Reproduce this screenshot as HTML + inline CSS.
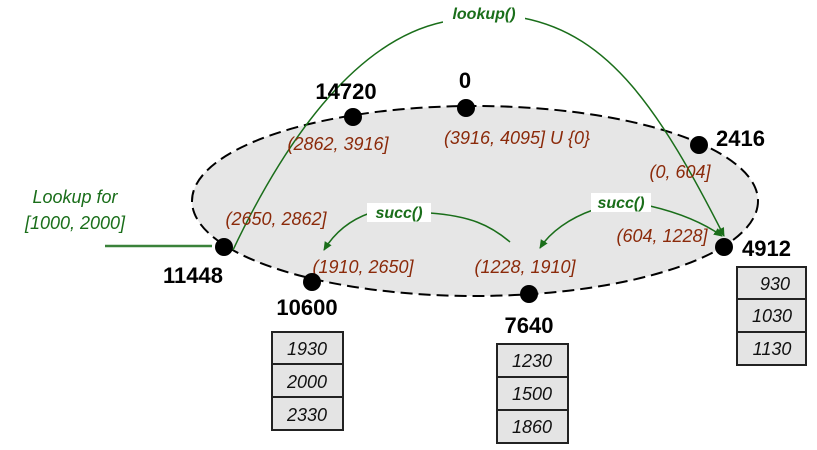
<!DOCTYPE html>
<html><head><meta charset="utf-8"><style>
html,body{margin:0;padding:0;background:#fff;}
svg{display:block;font-family:"Liberation Sans",Arial,sans-serif;}
.r{fill:#8b2a0a;font-style:italic;font-size:18px;}
.b{fill:#000;font-weight:bold;font-size:22px;}
.g{fill:#1a6e1a;font-style:italic;font-weight:bold;font-size:16px;}
.bx{font-style:italic;font-size:18px;fill:#111;}
</style></head><body>
<svg width="817" height="450" viewBox="0 0 817 450">
<defs><marker id="a" markerWidth="10" markerHeight="10" refX="8" refY="5" orient="auto" markerUnits="userSpaceOnUse"><path d="M0,1 L9,5 L0,9 z" fill="#1a6e1a"/></marker></defs>
<ellipse cx="475" cy="201" rx="283" ry="95" fill="#e6e6e6" stroke="#000" stroke-width="2" stroke-dasharray="12,6"/>
<line x1="105" y1="246" x2="212" y2="246" stroke="#3a823a" stroke-width="2.5"/>
<text x="75" y="203" text-anchor="middle" style="fill:#1a6e1a;font-style:italic;font-size:18px">Lookup for</text>
<text x="75" y="229" text-anchor="middle" style="fill:#1a6e1a;font-style:italic;font-size:18px">[1000, 2000]</text>
<path d="M233,250 C290,130 360,40 443,22" fill="none" stroke="#1a6e1a" stroke-width="1.5"/>
<path d="M523,18 C610,35 660,110 724,236" fill="none" stroke="#1a6e1a" stroke-width="1.5" marker-end="url(#a)"/>
<rect x="443" y="4" width="82" height="20" fill="#fff"/>
<text x="484" y="19" text-anchor="middle" class="g">lookup()</text>
<path d="M510,242 C490,225 470,216 430,213" fill="none" stroke="#1a6e1a" stroke-width="1.5"/>
<path d="M370,213 C350,220 335,232 324,250" fill="none" stroke="#1a6e1a" stroke-width="1.5" marker-end="url(#a)"/>
<rect x="367" y="203" width="64" height="19" fill="#fff"/>
<text x="399" y="218" text-anchor="middle" class="g">succ()</text>
<path d="M593,210 C570,218 550,232 540,248" fill="none" stroke="#1a6e1a" stroke-width="1.5" marker-end="url(#a)"/>
<path d="M650,206 C680,213 705,224 722,236" fill="none" stroke="#1a6e1a" stroke-width="1.5" marker-end="url(#a)"/>
<rect x="591" y="193" width="60" height="19" fill="#fff"/>
<text x="621" y="208" text-anchor="middle" class="g">succ()</text>
<text x="338" y="150" text-anchor="middle" class="r">(2862, 3916]</text>
<text x="517" y="144" text-anchor="middle" class="r">(3916, 4095] U {0}</text>
<text x="680" y="178" text-anchor="middle" class="r">(0, 604]</text>
<text x="662" y="242" text-anchor="middle" class="r">(604, 1228]</text>
<text x="525" y="273" text-anchor="middle" class="r">(1228, 1910]</text>
<text x="363" y="273" text-anchor="middle" class="r">(1910, 2650]</text>
<text x="276" y="225" text-anchor="middle" class="r">(2650, 2862]</text>
<g fill="#000">
<circle cx="353" cy="117" r="9"/><circle cx="466" cy="108" r="9"/><circle cx="699" cy="145" r="9"/>
<circle cx="724" cy="247" r="9"/><circle cx="529" cy="294" r="9"/><circle cx="312" cy="282" r="9"/><circle cx="224" cy="247" r="9"/>
</g>
<text x="346" y="99" text-anchor="middle" class="b">14720</text>
<text x="465" y="88" text-anchor="middle" class="b">0</text>
<text x="716" y="146" class="b">2416</text>
<text x="742" y="256" class="b">4912</text>
<text x="529" y="333" text-anchor="middle" class="b">7640</text>
<text x="307" y="315" text-anchor="middle" class="b">10600</text>
<text x="193" y="283" text-anchor="middle" class="b">11448</text>
<g stroke="#222" stroke-width="2" fill="#e4e4e4">
<rect x="272" y="332" width="71" height="32"/><rect x="272" y="364" width="71" height="33"/><rect x="272" y="397" width="71" height="33"/>
<rect x="497" y="344" width="71" height="33"/><rect x="497" y="377" width="71" height="33"/><rect x="497" y="410" width="71" height="33"/>
<rect x="737" y="267" width="69" height="32"/><rect x="737" y="299" width="69" height="33"/><rect x="737" y="332" width="69" height="33"/>
</g>
<text x="307" y="355" text-anchor="middle" class="bx">1930</text>
<text x="307" y="388" text-anchor="middle" class="bx">2000</text>
<text x="307" y="421" text-anchor="middle" class="bx">2330</text>
<text x="532" y="367" text-anchor="middle" class="bx">1230</text>
<text x="532" y="400" text-anchor="middle" class="bx">1500</text>
<text x="532" y="433" text-anchor="middle" class="bx">1860</text>
<text x="775" y="290" text-anchor="middle" class="bx">930</text>
<text x="772" y="322" text-anchor="middle" class="bx">1030</text>
<text x="772" y="355" text-anchor="middle" class="bx">1130</text>
</svg>
</body></html>
